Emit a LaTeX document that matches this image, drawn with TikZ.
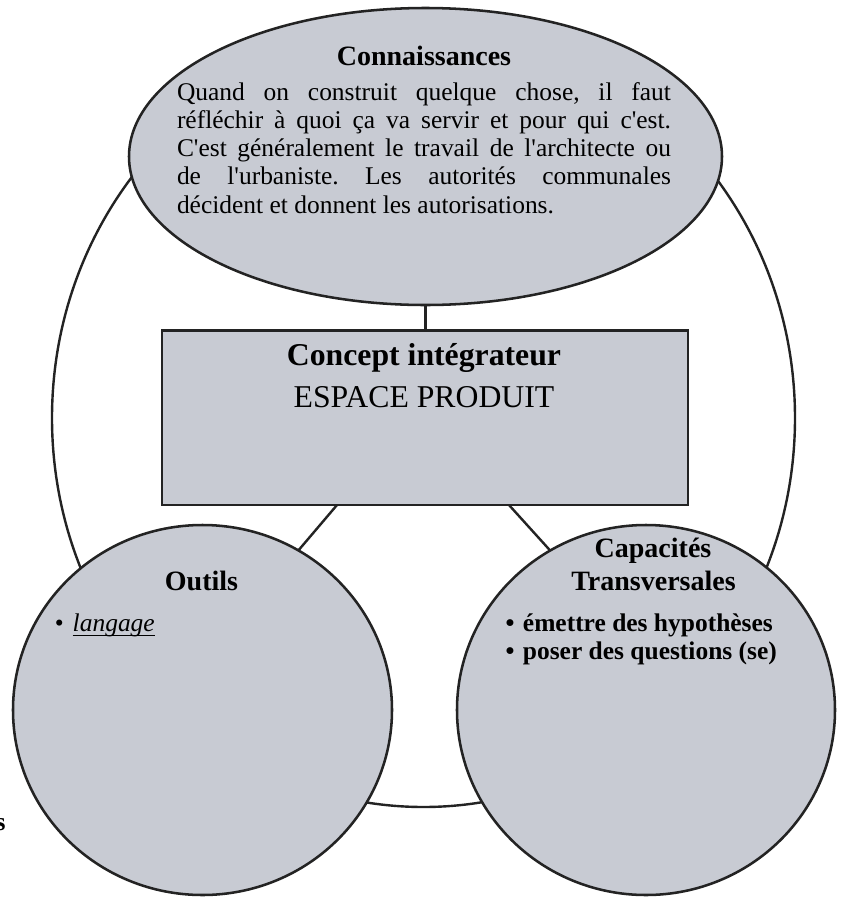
\documentclass[tikz,border=0pt]{standalone}
\usepackage{fontspec}
\setmainfont{Liberation Serif}
\usetikzlibrary{shapes.geometric,calc}
\definecolor{shapefill}{RGB}{200,203,211}
\definecolor{edgecol}{RGB}{35,35,35}
\newcommand{\myap}{\textquotesingle}
\newcommand{\myul}[1]{\setbox0\hbox{#1}\rlap{\rule[-3.9pt]{\wd0}{1.1pt}}\box0}
\newcommand{\dgbody}{\fontsize{19.1pt}{21pt}\selectfont}
\newcommand{\dghead}{\fontsize{21pt}{24pt}\selectfont\bfseries}
\newcommand{\dgbig}{\fontsize{23.8pt}{28pt}\selectfont}
\frenchspacing
\begin{document}
\begin{tikzpicture}[x=0.75pt,y=-0.75pt,
  shp/.style={draw=edgecol,line width=1.9pt,fill=shapefill,inner sep=0pt,outer sep=0pt},
  outerring/.style={ellipse,draw=edgecol,line width=1.8pt,inner sep=0pt,outer sep=0pt},
  link/.style={draw=edgecol,line width=1.8pt},
  txt/.style={inner sep=0pt,outer sep=0pt,anchor=base},
  txtw/.style={inner sep=0pt,outer sep=0pt,anchor=base west}]
\useasboundingbox[fill=white] (0,0) rectangle (841,897);
% outer ring
\node[outerring,minimum width=557.25pt,minimum height=583.5pt] (ring) at (423.5,418) {};
% shapes
\node[shp,ellipse,minimum width=444.75pt,minimum height=222.75pt] (conn) at (425.5,156.5) {};
\node[shp,rectangle,minimum width=394.5pt,minimum height=130.875pt] (rect) at (425,417.75) {};
\node[shp,ellipse,minimum width=284.25pt,minimum height=277.5pt] (outils) at (202.5,710) {};
\node[shp,ellipse,minimum width=283.5pt,minimum height=277.5pt] (capa) at (646,710) {};
% connectors
\draw[link] (conn.south) -- (conn.south |- rect.north);
\draw[link] ($(rect.south)+(-88,0)$) -- (outils.59);
\draw[link] ($(rect.south)+(84,0)$) -- (capa.121);
% Connaissances
\node[txt] (chead) at (424,65) {\dghead Connaissances};
\node[txtw] (b1) at (177,100) {\dgbody\makebox[370.5pt][s]{Quand on construit quelque chose, il faut}};
\node[txtw] (b2) at (177,128.3) {\dgbody\makebox[370.5pt][s]{réfléchir à quoi ça va servir et pour qui c\myap est.}};
\node[txtw] (b3) at (177,156.5) {\dgbody\makebox[370.5pt][s]{C\myap est généralement le travail de l\myap architecte ou}};
\node[txtw] (b4) at (177,184.8) {\dgbody\makebox[370.5pt][s]{de l\myap urbaniste. Les autorités communales}};
\node[txtw] (b5) at (177,213) {\dgbody décident et donnent les autorisations.};
% Concept
\node[txt] (c1) at (424,365) {\dgbig\bfseries Concept intégrateur};
\node[txt] (c2) at (424,407) {\dgbig ESPACE PRODUIT};
% Outils
\node[txt] (ohead) at (201.5,590) {\dghead Outils};
\node[txtw] (o1) at (55,631) {\dgbody\makebox[13.3pt][l]{\textbullet}\myul{\textit{langage}}};
% Capacites
\node[txt] (k1) at (653,557) {\dghead Capacités};
\node[txt] (k2) at (653.5,590) {\dghead Transversales};
\node[txtw] (k3) at (505.5,631) {\dgbody\bfseries\makebox[13.1pt][l]{\textbullet}émettre des hypothèses};
\node[txtw] (k4) at (505.5,659) {\dgbody\bfseries\makebox[13.1pt][l]{\textbullet}poser des questions (se)};
% stray letter, cut by the left edge as in the reference
\node[inner sep=0pt,outer sep=0pt,anchor=base east] (stray) at (5.5,830) {\dgbody\bfseries s};
\end{tikzpicture}
\end{document}
